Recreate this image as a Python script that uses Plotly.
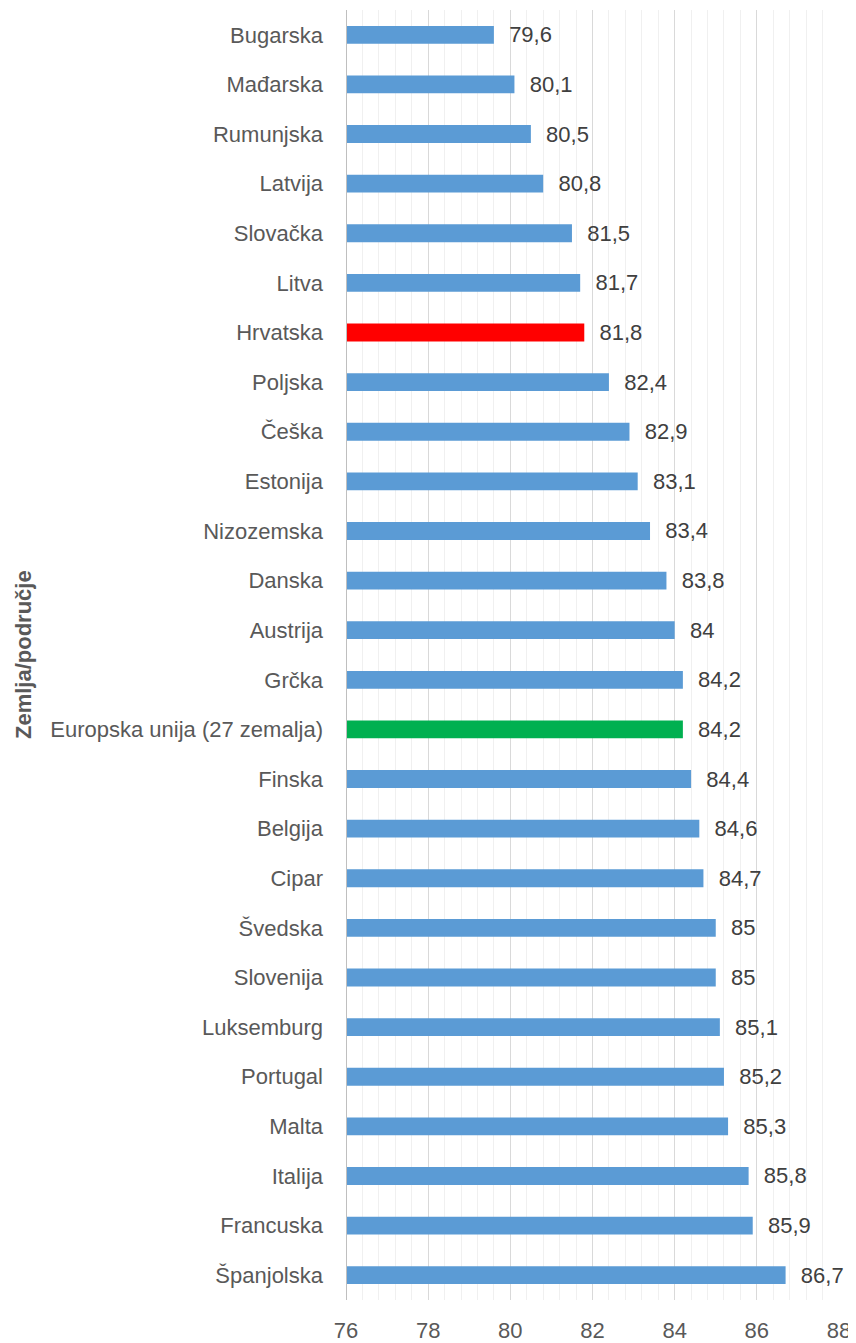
import plotly.graph_objects as go

countries = ["Bugarska", "Mađarska", "Rumunjska", "Latvija", "Slovačka", "Litva", "Hrvatska",
             "Poljska", "Češka", "Estonija", "Nizozemska", "Danska", "Austrija", "Grčka",
             "Europska unija (27 zemalja)", "Finska", "Belgija", "Cipar", "Švedska", "Slovenija",
             "Luksemburg", "Portugal", "Malta", "Italija", "Francuska", "Španjolska"]
values = [79.6, 80.1, 80.5, 80.8, 81.5, 81.7, 81.8, 82.4, 82.9, 83.1, 83.4, 83.8, 84, 84.2,
          84.2, 84.4, 84.6, 84.7, 85, 85, 85.1, 85.2, 85.3, 85.8, 85.9, 86.7]
x_ticks = [76, 78, 80, 82, 84, 86, 88]

colors = []
for c in countries:
    if c == "Hrvatska":
        colors.append("#ff0000")
    elif c.startswith("Europska"):
        colors.append("#00b050")
    else:
        colors.append("#5b9bd5")

labels = ["\u00a0\u00a0" + ("%g" % v).replace(".", ",") for v in values]

FONT = "Liberation Sans, Arial"

fig = go.Figure(go.Bar(
    x=values, y=countries, orientation="h",
    marker=dict(color=colors, line=dict(width=0)),
    text=labels, textposition="outside", cliponaxis=False, constraintext="none",
    textfont=dict(size=22, color="#404040", family=FONT),
    width=0.36,
))

# the page body adds an 8px offset, so the figure is 8px smaller than the window
fig.update_layout(
    width=848, height=1335,
    margin=dict(l=338, r=17, t=2, b=43, autoexpand=False),
    paper_bgcolor="white", plot_bgcolor="white",
    font=dict(family=FONT, color="#595959", size=22),
    showlegend=False,
    xaxis=dict(range=[76, 88], tickvals=x_ticks, ticktext=[str(t) for t in x_ticks],
               showgrid=True, gridcolor="#d9d9d9", gridwidth=1.3,
               minor=dict(dtick=0.4, tick0=76, showgrid=True, gridcolor="#f0f0f0", gridwidth=1),
               zeroline=False, showline=False, ticks="", ticklabelstandoff=15,
               tickfont=dict(size=22, color="#595959"), automargin=False),
    yaxis=dict(autorange="reversed", showgrid=False, ticks="", ticklabelstandoff=22,
               tickfont=dict(size=22, color="#595959"), automargin=False),
)
fig.add_shape(type="line", xref="x", yref="paper", x0=76, x1=76, y0=0, y1=1,
              line=dict(color="#bfbfbf", width=2))
fig.add_annotation(text="<b>Zemlja/područje</b>", xref="paper", yref="paper",
                   x=0, y=0.5, xshift=-323, xanchor="center", yanchor="middle",
                   textangle=-90, showarrow=False,
                   font=dict(size=22, color="#595959", family=FONT))

fig.write_html("out.html")
